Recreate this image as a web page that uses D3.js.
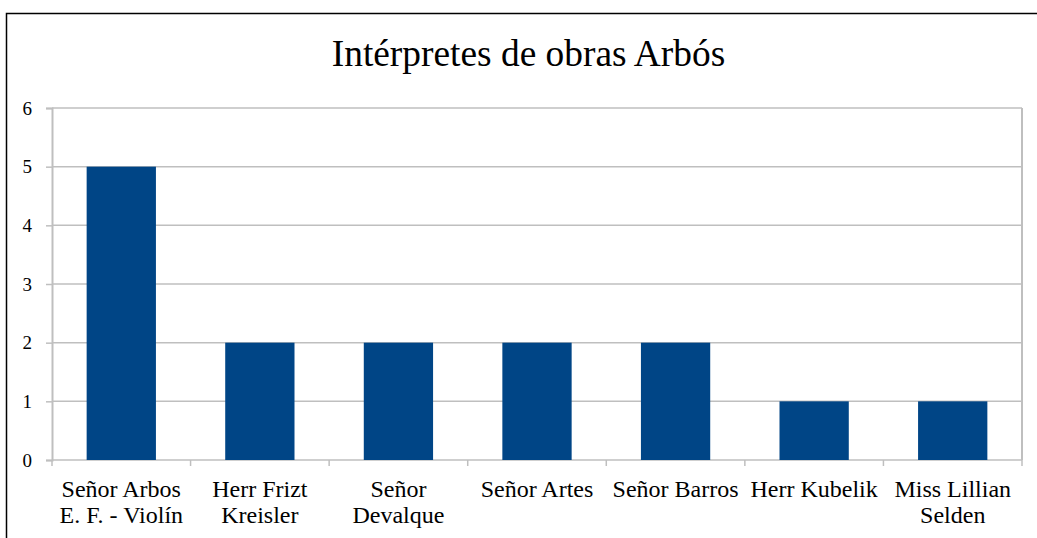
<!DOCTYPE html>
<html>
<head>
<meta charset="utf-8">
<script src="https://cdn.jsdelivr.net/npm/d3@7"></script>
<style>
  html, body { margin: 0; padding: 0; background: #fff; }
  svg { display: block; }
</style>
</head>
<body>
<svg id="chart" width="1037" height="538"></svg>
<script>
// Performers and number of works by Arbós each one played
const categories = [
  ["Señor Arbos", "E. F. - Violín"],
  ["Herr Frizt", "Kreisler"],
  ["Señor", "Devalque"],
  ["Señor Artes"],
  ["Señor Barros"],
  ["Herr Kubelik"],
  ["Miss Lillian", "Selden"]
];
const values = [5, 2, 2, 2, 2, 1, 1];
const yTicks = [0, 1, 2, 3, 4, 5, 6];
const title = "Intérpretes de obras Arbós";

const svg = d3.select("#chart");
const W = 1037, H = 538;
const margin = { left: 52, right: 15, top: 108, bottom: 78 };
const plotW = W - margin.left - margin.right;
const plotH = H - margin.top - margin.bottom;
const serif = "'Liberation Serif', 'Times New Roman', serif";

// Outer frame (extends past the right and bottom edges)
svg.append("rect")
  .attr("x", 6.5).attr("y", 13.5)
  .attr("width", W + 20).attr("height", H + 20)
  .attr("fill", "none").attr("stroke", "#000").attr("stroke-width", 1.5);

svg.append("text")
  .attr("x", 528.5).attr("y", 66)
  .attr("text-anchor", "middle")
  .attr("font-family", serif)
  .attr("font-size", 37.4)
  .attr("fill", "#000")
  .text(title);

const g = svg.append("g").attr("transform", `translate(${margin.left},${margin.top})`);

const x = d3.scaleBand().domain(d3.range(categories.length)).range([0, plotW]).paddingInner(0.5).paddingOuter(0.25);
const xOuter = d3.scaleBand().domain(d3.range(categories.length)).range([0, plotW]);
const y = d3.scaleLinear().domain([0, 6]).range([plotH, 0]);

const gridColor = "#bfbfbf";

// Horizontal gridlines
g.append("g").selectAll("line").data(yTicks).join("line")
  .attr("x1", 0).attr("x2", plotW)
  .attr("y1", d => y(d)).attr("y2", d => y(d))
  .attr("stroke", gridColor).attr("stroke-width", 1.5);

// Right edge of plot area
g.append("line")
  .attr("x1", plotW).attr("x2", plotW)
  .attr("y1", 0).attr("y2", plotH)
  .attr("stroke", gridColor).attr("stroke-width", 2);

// Bars
g.append("g").selectAll("rect").data(values).join("rect")
  .attr("x", (d, i) => x(i))
  .attr("width", x.bandwidth())
  .attr("y", d => y(d))
  .attr("height", d => y(0) - y(d))
  .attr("fill", "#004586");

// Y axis
const yAxis = g.append("g")
  .call(d3.axisLeft(y).tickValues(yTicks).tickSize(6).tickPadding(14).tickFormat(d3.format("d")));
yAxis.select(".domain").attr("stroke", gridColor).attr("stroke-width", 2);
yAxis.selectAll(".tick line").attr("stroke", gridColor).attr("stroke-width", 1.5);
yAxis.selectAll(".tick text")
  .attr("font-family", serif)
  .attr("font-size", 19).attr("fill", "#000");

// X axis boundary ticks
const boundaries = d3.range(categories.length + 1).map(i => i === categories.length ? plotW : xOuter(i));
g.append("g").selectAll("line").data(boundaries).join("line")
  .attr("x1", d => d).attr("x2", d => d)
  .attr("y1", plotH).attr("y2", plotH + 6)
  .attr("stroke", gridColor).attr("stroke-width", 1.5);

// Category labels
const labels = g.append("g").selectAll("text").data(categories).join("text")
  .attr("text-anchor", "middle")
  .attr("font-family", serif)
  .attr("font-size", 24).attr("fill", "#000")
  .attr("transform", (d, i) => `translate(${xOuter(i) + xOuter.bandwidth() / 2},${plotH + 37})`);
labels.selectAll("tspan").data(d => d).join("tspan")
  .attr("x", 0).attr("dy", (d, i) => i === 0 ? 0 : 26)
  .text(d => d);
</script>
</body>
</html>
